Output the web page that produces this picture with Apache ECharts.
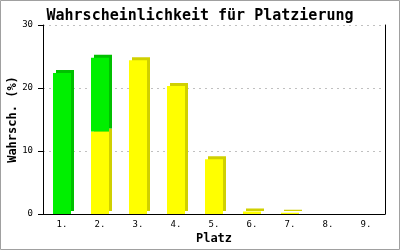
<!DOCTYPE html>
<html><head><meta charset="utf-8">
<script src="https://cdn.jsdelivr.net/npm/echarts@6/dist/echarts.min.js"></script>
<style>html,body{margin:0;padding:0;background:#fff}#c{width:400px;height:250px}</style>
</head><body><div id="c"></div>
<script>
const categories = ['1.', '2.', '3.', '4.', '5.', '6.', '7.', '8.', '9.'];
const yellowValues = [0, 13.1, 24.4, 20.3, 8.7, 0.4, 0.2, 0, 0];
const greenValues = [22.4, 11.7, 0, 0, 0, 0, 0, 0, 0];
const yTicks = [0, 10, 20, 30];

const mono = 'DejaVu Sans Mono';
const chart = echarts.init(document.getElementById('c'), null, {renderer: 'canvas'});
chart.setOption({
  animation: false,
  backgroundColor: '#fff',
  title: {
    text: 'Wahrscheinlichkeit für Platzierung',
    left: 'center', top: 4,
    textStyle: {fontFamily: mono, fontSize: 15, fontWeight: 'bold', color: '#000'}
  },
  graphic: [{
    type: 'rect', silent: true,
    shape: {x: 0.5, y: 0.5, width: 399, height: 249},
    style: {fill: 'none', stroke: '#a0a0a0', lineWidth: 1}
  }],
  grid: {left: 43, right: 15, top: 25, bottom: 36, containLabel: false, outerBoundsMode: 'none'},
  xAxis: {
    type: 'category', data: categories,
    name: 'Platz', nameLocation: 'middle', nameGap: 19, nameMoveOverlap: false,
    nameTextStyle: {fontFamily: mono, fontSize: 12, fontWeight: 'bold', color: '#000'},
    axisLine: {lineStyle: {color: '#000', width: 1}},
    axisTick: {show: false},
    axisLabel: {fontFamily: mono, fontSize: 9, color: '#000', margin: 6}
  },
  yAxis: [{
    type: 'value', min: yTicks[0], max: yTicks[yTicks.length - 1], interval: 10,
    name: 'Wahrsch. (%)', nameLocation: 'middle', nameGap: 24, nameMoveOverlap: false,
    nameTextStyle: {fontFamily: mono, fontSize: 12, fontWeight: 'bold', color: '#000'},
    axisLine: {show: true, lineStyle: {color: '#000', width: 1}},
    axisTick: {show: true, length: 5, lineStyle: {color: '#000'}},
    axisLabel: {fontFamily: mono, fontSize: 9, color: '#000', margin: 10},
    splitLine: {show: true, lineStyle: {color: '#c0c0c0', type: [2, 4], width: 1}}
  }, {
    type: 'value', min: yTicks[0], max: yTicks[yTicks.length - 1], interval: 10, position: 'right',
    axisLine: {show: true, lineStyle: {color: '#000', width: 1}},
    axisTick: {show: false}, axisLabel: {show: false}, splitLine: {show: false}
  }],
  series: [{
    name: 'gelb', type: 'bar', stack: 'p', data: yellowValues, barWidth: 18,
    itemStyle: {color: '#ffff00', shadowColor: '#d0d000', shadowBlur: 0, shadowOffsetX: 3, shadowOffsetY: -3}
  }, {
    name: 'grün', type: 'bar', stack: 'p', data: greenValues, barWidth: 18,
    itemStyle: {color: '#00f000', shadowColor: '#00c000', shadowBlur: 0, shadowOffsetX: 3, shadowOffsetY: -3}
  }]
});
</script></body></html>
